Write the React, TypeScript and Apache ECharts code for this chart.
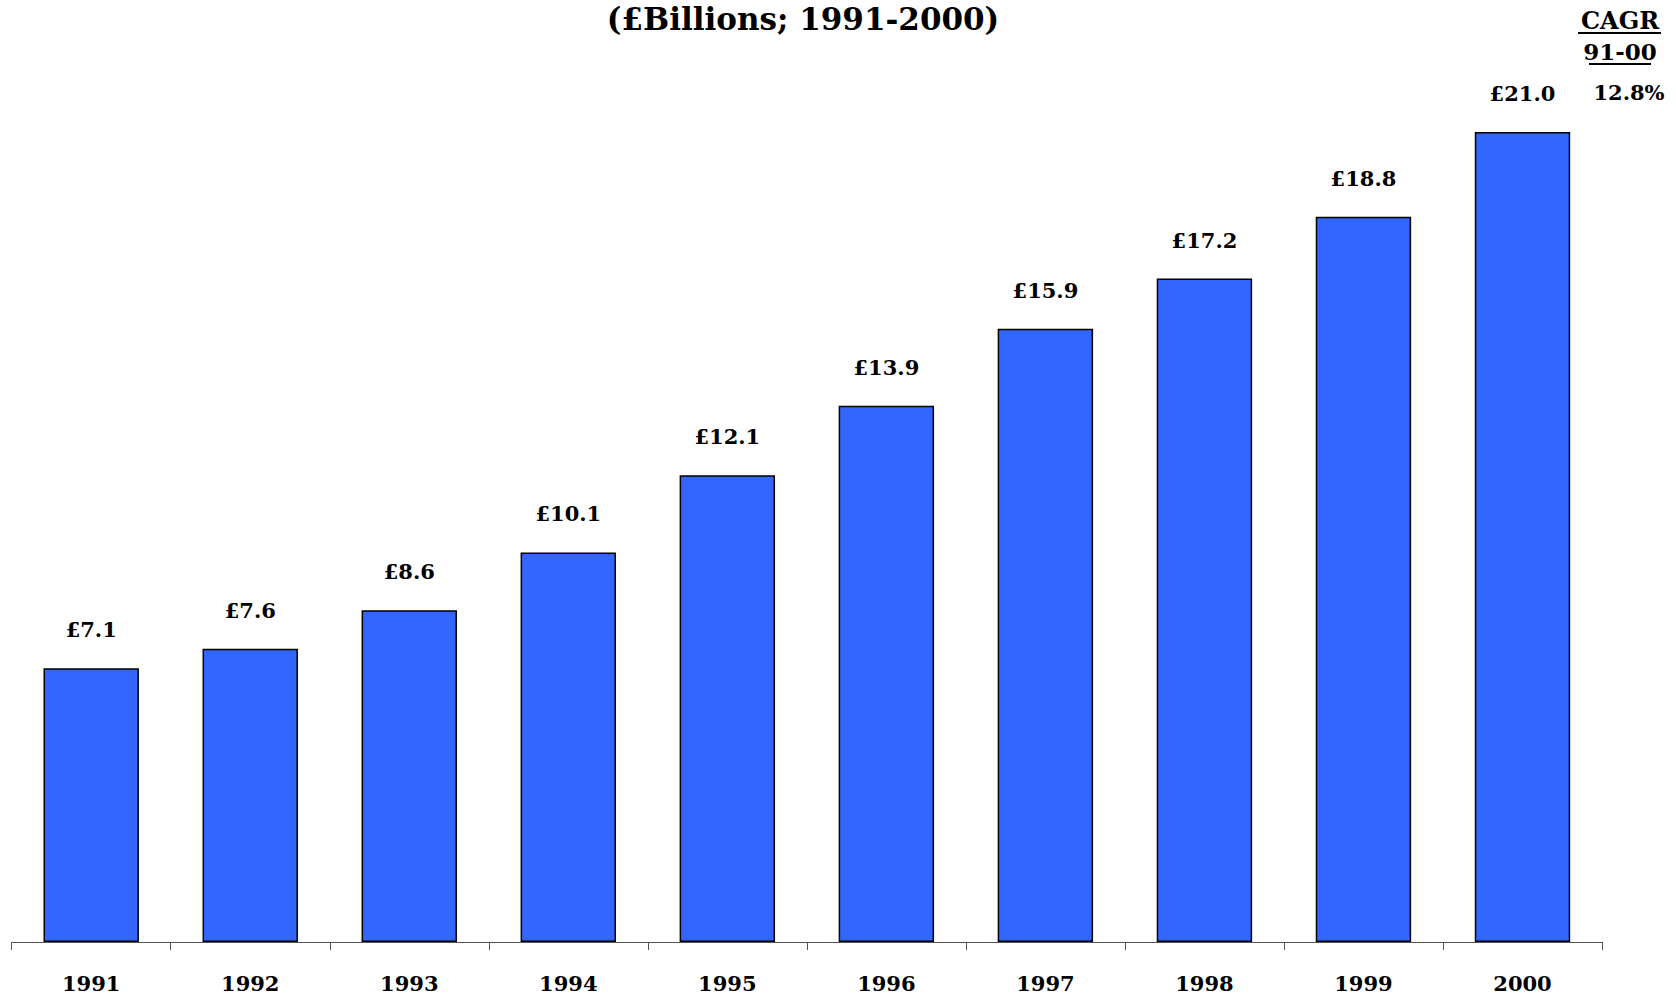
import React, { useEffect, useRef } from "react";
import * as echarts from "echarts";

const years = ["1991", "1992", "1993", "1994", "1995", "1996", "1997", "1998", "1999", "2000"];
const values = [7.1, 7.6, 8.6, 10.1, 12.1, 13.9, 15.9, 17.2, 18.8, 21.0];
const titleText = "(£Billions; 1991-2000)";
const cagrHeader = ["CAGR", "91-00"];
const cagrValue = "12.8%";

const FONT = "'DejaVu Serif', serif";

export default function App() {
  const ref = useRef<HTMLDivElement>(null);
  useEffect(() => {
    if (!ref.current) return;
    const chart = echarts.init(ref.current, null, { renderer: "svg" });
    chart.setOption({
      animation: false,
      backgroundColor: "#ffffff",
      graphic: [
        {
          type: "text",
          x: 803,
          y: 3,
          style: {
            text: titleText,
            align: "center",
            verticalAlign: "top",
            fontFamily: FONT,
            fontWeight: "bold",
            fontSize: 31,
            fill: "#000",
          },
        },
        {
          type: "text",
          x: 1620,
          y: 20,
          style: { text: cagrHeader[0], align: "center", verticalAlign: "middle", fontFamily: FONT, fontWeight: "bold", fontSize: 24, fill: "#000" },
        },
        { type: "line", shape: { x1: 1578, y1: 33, x2: 1661, y2: 33 }, style: { stroke: "#000", lineWidth: 2 } },
        {
          type: "text",
          x: 1620,
          y: 51,
          style: { text: cagrHeader[1], align: "center", verticalAlign: "middle", fontFamily: FONT, fontWeight: "bold", fontSize: 23, fill: "#000" },
        },
        { type: "line", shape: { x1: 1589, y1: 64, x2: 1651, y2: 64 }, style: { stroke: "#000", lineWidth: 2 } },
        {
          type: "text",
          x: 1629,
          y: 92,
          style: { text: cagrValue, align: "center", verticalAlign: "middle", fontFamily: FONT, fontWeight: "bold", fontSize: 21, fill: "#000" },
        },
      ],
      grid: { left: 11.7, right: 74, top: 93.4, bottom: 56, containLabel: false },
      xAxis: {
        type: "category",
        data: years,
        axisLine: { show: true, lineStyle: { color: "#555", width: 1 } },
        axisTick: { show: true, length: 8, lineStyle: { color: "#555" } },
        axisLabel: {
          margin: 31,
          fontFamily: FONT,
          fontWeight: "bold",
          fontSize: 21,
          color: "#000",
        },
      },
      yAxis: {
        type: "value",
        min: 0,
        max: 22,
        show: false,
        splitLine: { show: false },
      },
      series: [
        {
          type: "bar",
          data: values,
          barWidth: "60%",
          itemStyle: { color: "#3366FF", borderColor: "#000", borderWidth: 1.5 },
          label: {
            show: true,
            position: "top",
            distance: 28,
            formatter: (p: any) => "£" + Number(p.value).toFixed(1),
            fontFamily: FONT,
            fontWeight: "bold",
            fontSize: 21,
            color: "#000",
          },
        },
      ],
    });
    return () => chart.dispose();
  }, []);
  return (
    <div
      ref={ref}
      style={{ position: "fixed", left: 0, top: 0, width: 1676, height: 998, background: "#fff" }}
    />
  );
}
